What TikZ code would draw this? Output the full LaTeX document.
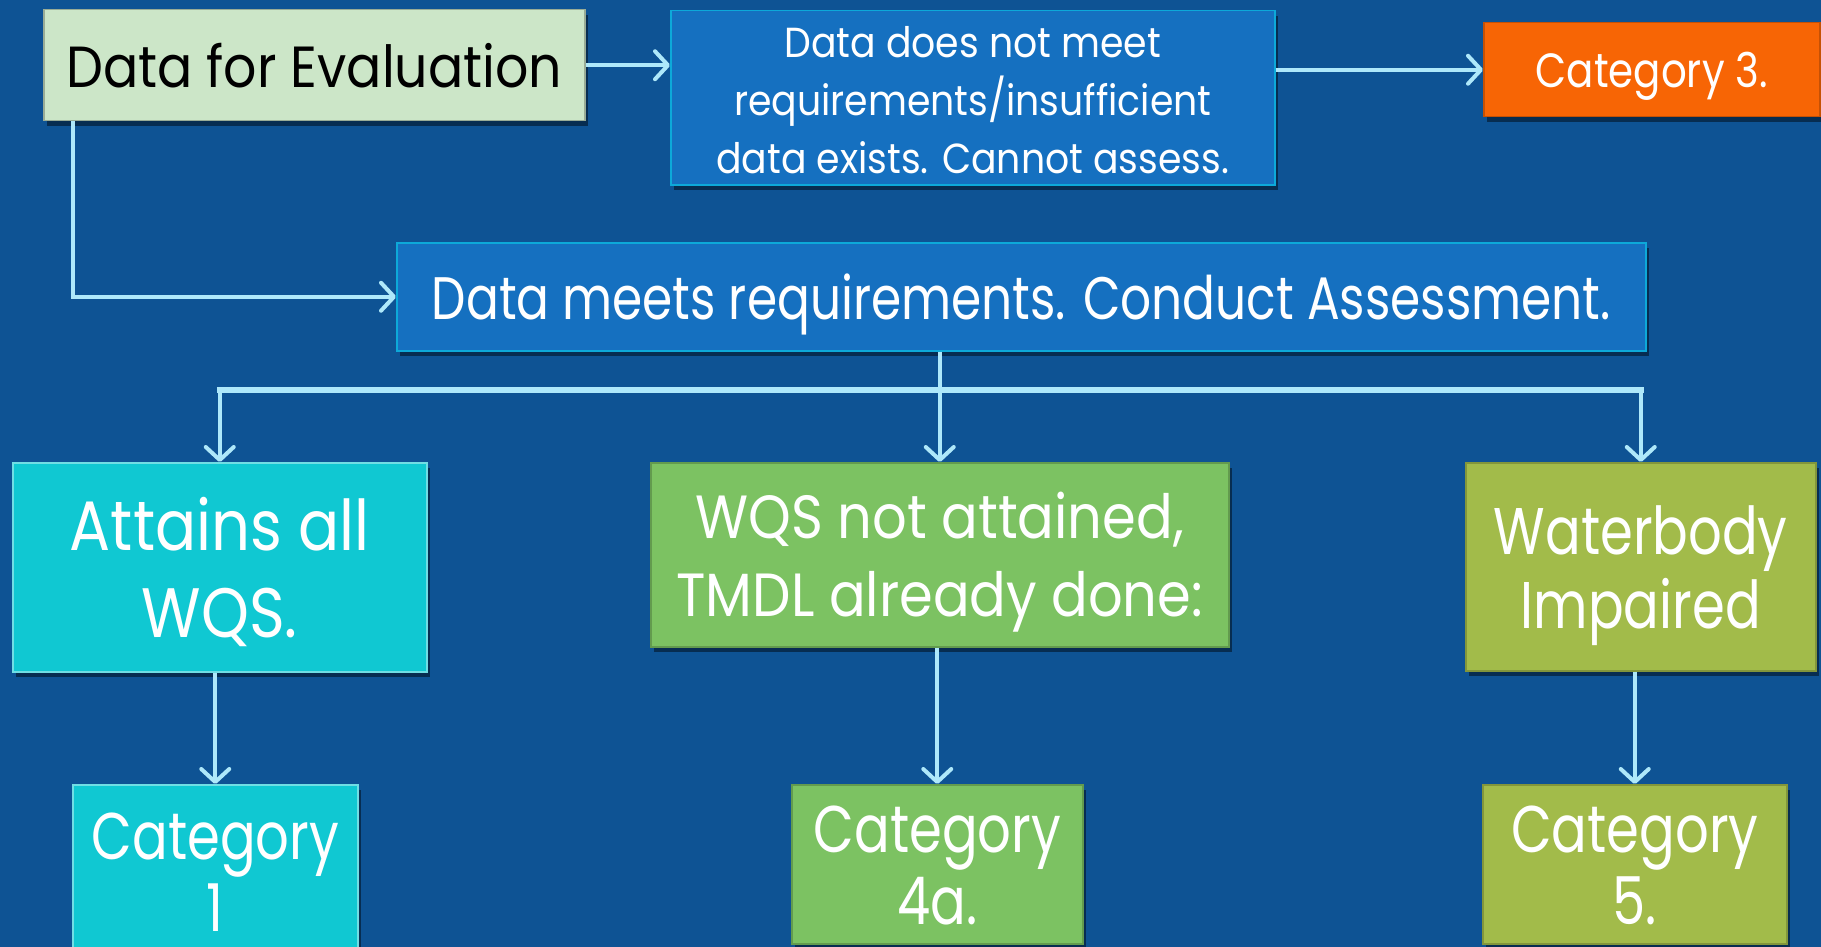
\documentclass[tikz,border=0pt]{standalone}
\usepackage{fontspec}
\setmainfont[FakeStretch=0.8]{Poppins}
\newfontfamily\fE[FakeStretch=0.9]{Poppins}
\newfontfamily\fB[FakeStretch=0.9]{Poppins}
\newfontfamily\fC[FakeStretch=0.84]{Poppins}
\newfontfamily\fM[FakeStretch=0.81]{Poppins}
\newfontfamily\fA[FakeStretch=0.87]{Poppins}
\newfontfamily\fW[FakeStretch=0.89]{Poppins}
\newfontfamily\fN[FakeStretch=0.8]{Poppins}
\usetikzlibrary{arrows.meta,shadows}
\definecolor{bgblue}{HTML}{0E5394}
\definecolor{boxblue}{HTML}{1570C0}
\definecolor{lgreen}{HTML}{CCE6C8}
\definecolor{orangebox}{HTML}{F76505}
\definecolor{cyanbox}{HTML}{10C8D2}
\definecolor{greenbox}{HTML}{7CC262}
\definecolor{olivebox}{HTML}{A2BB4A}
\definecolor{arrowc}{HTML}{AEE8FA}
\newcommand\fsz[2]{\fontsize{#1}{#2}\selectfont}
\tikzset{
  box/.style={rectangle, inner sep=0pt, anchor=north west,
    line width=1.5pt,
    drop shadow={shadow xshift=3pt, shadow yshift=-5pt, opacity=0.45, fill=black}},
  txt/.style={inner sep=0pt, align=center, text=white},
  arr/.style={draw=arrowc, line width=4pt,
    -{Straight Barb[length=13pt,width=28pt,line width=4pt,round]}},
  barline/.style={draw=arrowc, line width=6pt},
  trunk/.style={draw=arrowc, line width=4pt}
}
\begin{document}
\begin{tikzpicture}[x=1pt,y=-1pt]
\fill[bgblue] (0,0) rectangle (1821,947);
\useasboundingbox (0,0) rectangle (1821,947);
\begin{scope}
\clip (0,0) rectangle (1821,947);
\node[box, fill=lgreen, draw=lgreen!75!black, minimum width=541pt, minimum height=111pt] (eval) at (43,9) {};
\node[box, fill=boxblue, draw=boxblue!60!cyan, minimum width=604pt, minimum height=174pt] (blue1) at (670,10) {};
\node[box, fill=orangebox, draw=orangebox!80!black, minimum width=336pt, minimum height=94pt] (cat3) at (1483,22) {};
\node[box, fill=boxblue, draw=boxblue!60!cyan, minimum width=1249pt, minimum height=108pt] (big) at (396,242) {};
\node[box, fill=cyanbox, draw=cyanbox!60!white, minimum width=414pt, minimum height=209pt] (cyan) at (12,462) {};
\node[box, fill=greenbox, draw=greenbox!80!black, minimum width=578pt, minimum height=184pt] (green) at (650,462) {};
\node[box, fill=olivebox, draw=olivebox!80!black, minimum width=350pt, minimum height=208pt] (olive) at (1465,462) {};
\node[box, fill=cyanbox, draw=cyanbox!60!white, minimum width=285pt, minimum height=170pt] (cat1) at (72,784) {};
\node[box, fill=greenbox, draw=greenbox!80!black, minimum width=291pt, minimum height=159pt] (cat4) at (791,784) {};
\node[box, fill=olivebox, draw=olivebox!80!black, minimum width=304pt, minimum height=159pt] (cat5) at (1482,784) {};
\end{scope}
% texts
\node[txt, text=black, font=\fE\fsz{58}{70}] (evalT) at (eval.center) {Data for Evaluation};
\node[txt, font=\fB\fsz{42}{58}, yshift=-2pt] (blue1T) at (blue1.center) {Data does not meet\\requirements/insufficient\\data exists. Cannot assess.};
\node[txt, font=\fC\fsz{48}{58}, yshift=-7pt] (cat3T) at (cat3.center) {Category 3.};
\node[txt, font=\fM\fsz{60}{72}, yshift=-8pt] (bigT) at (big.center) {Data meets requirements. Conduct Assessment.};
\node[txt, font=\fA\fsz{70}{87}, yshift=-5pt] (cyanT) at (cyan.center) {Attains all\\WQS.};
\node[txt, font=\fW\fsz{61}{78}, yshift=-7pt] (greenT) at (green.center) {WQS not attained,\\TMDL already done:};
\node[txt, font=\fN\fsz{66}{74}, yshift=-9pt] (oliveT) at (olive.center) {Waterbody\\Impaired};
\node[txt, font=\fN\fsz{66}{72}, yshift=-2pt] (cat1T) at (cat1.center) {Category\\1};
\node[txt, font=\fN\fsz{66}{72}, yshift=-1pt] (cat4T) at (cat4.center) {Category\\4a.};
\node[txt, font=\fN\fsz{66}{72}, yshift=-1pt] (cat5T) at (cat5.center) {Category\\5.};
% connectors
\coordinate (bar) at (0,390);
\draw[arr] (eval.east) -- (eval.east -| blue1.west);
\draw[arr] (blue1.east |- cat3.west) -- (cat3.west);
\draw[arr] ([xshift=30pt]eval.south west) |- (big.west);
\draw[trunk] (big.south -| green.north) -- (bar -| green.north);
\draw[barline] ([xshift=-3pt]bar -| cyan.north) -- ([xshift=3pt]bar -| olive.north);
\draw[arr] (bar -| cyan.north) -- (cyan.north);
\draw[arr] (bar -| green.north) -- (green.north);
\draw[arr] (bar -| olive.north) -- (olive.north);
\draw[arr] (cyan.south -| cat1.north) -- (cat1.north);
\draw[arr] (green.south -| cat4.north) -- (cat4.north);
\draw[arr] (olive.south -| cat5.north) -- (cat5.north);
\end{tikzpicture}
\end{document}
